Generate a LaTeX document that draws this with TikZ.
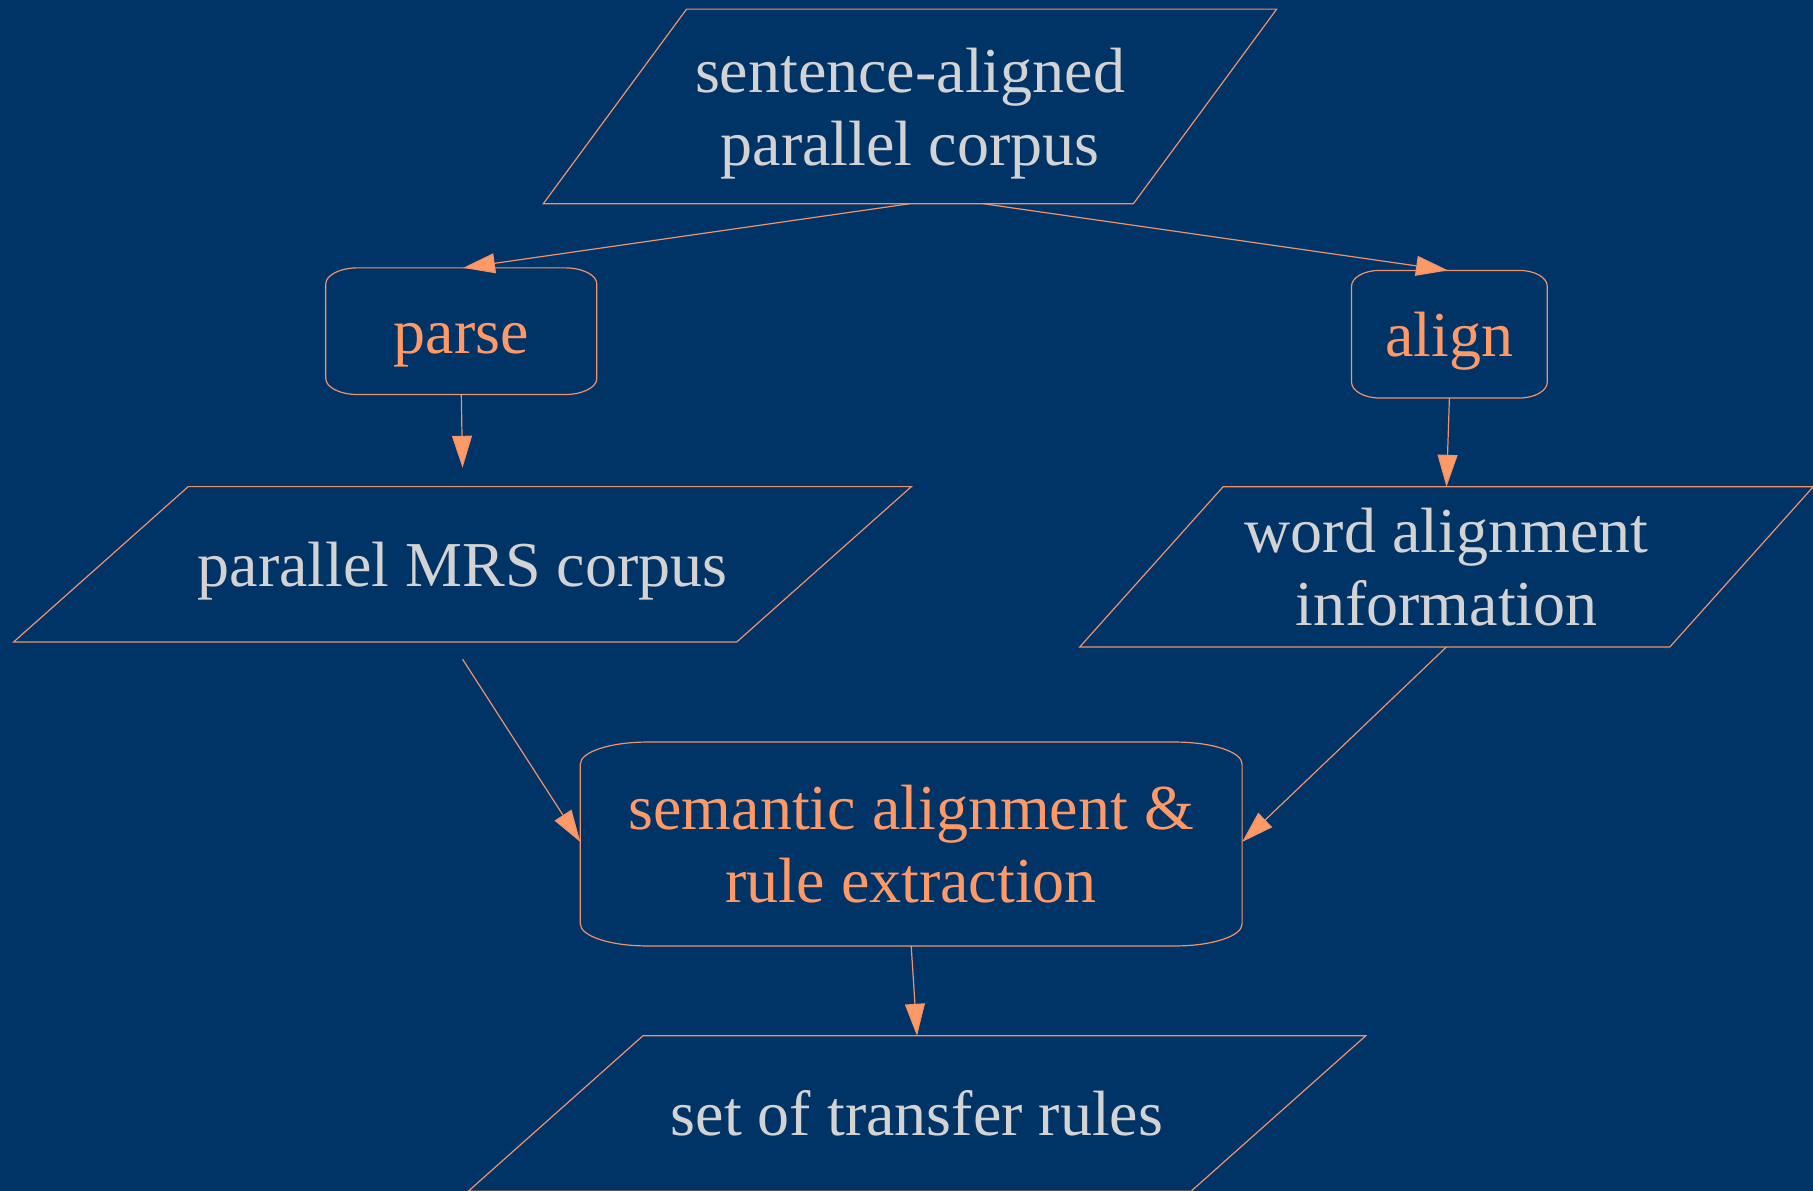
\documentclass[tikz,border=0pt]{standalone}
\usepackage{fontspec}
\setmainfont{Liberation Serif}
\usetikzlibrary{arrows.meta}
\definecolor{bg}{HTML}{003366}
\definecolor{org}{HTML}{FF9966}
\definecolor{lgray}{HTML}{D3D3D3}
\definecolor{edgec}{HTML}{F0936A}
\tikzset{
 box/.style={rectangle, inner sep=0pt, draw=none, font=\fontsize{64}{73}\selectfont, align=center},
 data/.style={box, text=lgray},
 proc/.style={box, text=org},
 outline/.style={draw=edgec, line width=1.2pt},
 conn/.style={draw=edgec, line width=1.2pt, -{Triangle[length=32pt,width=20pt,fill=org]}},
}
\newcommand\myTopStrut{\vrule height 44pt depth 0pt width 0pt}
\newcommand\myParal[2]{\draw[outline] (#1.south west) -- ([xshift=#2pt]#1.north west) -- (#1.north east) -- ([xshift=-#2pt]#1.south east) -- cycle;}
\newcommand\myRbox[3]{\draw[outline] ([xshift=#2pt]#1.north west) -- ([xshift=-#2pt]#1.north east) arc[start angle=90,end angle=0,x radius=#2pt,y radius=#3pt] -- ([yshift=#3pt]#1.south east) arc[start angle=0,end angle=-90,x radius=#2pt,y radius=#3pt] -- ([xshift=#2pt]#1.south west) arc[start angle=270,end angle=180,x radius=#2pt,y radius=#3pt] -- ([yshift=-#3pt]#1.north west) arc[start angle=180,end angle=90,x radius=#2pt,y radius=#3pt] -- cycle;}
\begin{document}
\begin{tikzpicture}[x=1pt,y=-1pt]
\fill[bg] (0,0) rectangle (1813,1191);
\useasboundingbox (0,0) rectangle (1813,1191);
% nodes
\node[data, minimum width=733pt, minimum height=194.2pt] (corpus) at (910,106.4) {\myTopStrut sentence-aligned\\\smash{parallel corpus}};
\node[proc, minimum width=270.6pt, minimum height=126.3pt] (parse) at (461.3,331.2) {\myTopStrut\smash{parse}};
\node[proc, minimum width=195.4pt, minimum height=127.2pt] (align) at (1449.4,334.2) {\myTopStrut\smash{align}};
\node[data, minimum width=897.3pt, minimum height=154.9pt] (mrs) at (462.55,564.25) {\myTopStrut\smash{parallel MRS corpus}};
\node[data, minimum width=733pt, minimum height=159.7pt] (word) at (1446.5,566.85) {\myTopStrut word alignment\\\smash{information}};
\node[proc, minimum width=661.4pt, minimum height=203.5pt] (sem) at (911.2,844) {\myTopStrut semantic alignment \&\\\smash{rule extraction}};
\node[data, minimum width=897pt, minimum height=155pt] (rules) at (917,1113.5) {\myTopStrut\smash{set of transfer rules}};
% outlines
\myParal{corpus}{143.3}
\myRbox{parse}{32}{16}
\myRbox{align}{28}{16}
\myParal{mrs}{174.6}
\myParal{word}{143.3}
\myRbox{sem}{67}{22}
\myParal{rules}{174.6}
% connectors
\draw[conn] (corpus.south) -- ([xshift=1.7pt]parse.north);
\draw[conn] ([xshift=73pt]corpus.south) -- ([xshift=-1.4pt]align.north);
\draw[conn] (parse.south) -- ([yshift=18.8pt]mrs.north);
\draw[conn] (align.south) -- (word.north);
\draw[conn] ([yshift=-17.3pt]mrs.south) -- ([yshift=2pt]sem.west);
\draw[conn] (word.south) -- ([yshift=2pt]sem.east);
\draw[conn] (sem.south) -- (rules.north);
\end{tikzpicture}
\end{document}
